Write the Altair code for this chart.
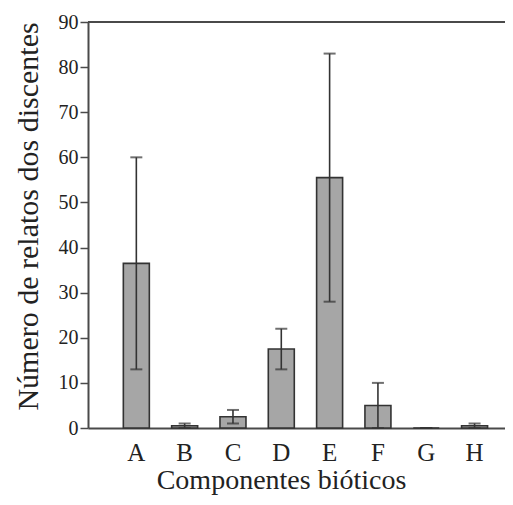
import altair as alt
import pandas as pd

categories = ["A", "B", "C", "D", "E", "F", "G", "H"]
means = [36.5, 0.5, 2.5, 17.5, 55.5, 5.0, 0.0, 0.5]
err_low = [13.0, 0.0, 1.0, 13.0, 28.0, 0.0, 0.0, 0.0]
err_high = [60.0, 1.0, 4.0, 22.0, 83.0, 10.0, 0.0, 1.0]
y_ticks = [0, 10, 20, 30, 40, 50, 60, 70, 80, 90]

df = pd.DataFrame({"cat": categories, "mean": means, "lo": err_low, "hi": err_high})

W = 417
H = 406
AX = "#4a4a4a"
FONT = "Times New Roman, Liberation Serif, serif"

xs = alt.Scale(domain=categories, paddingInner=0.46, paddingOuter=0.545, align=0.67)
ys = alt.Scale(domain=[0, 90], nice=False)

x_enc = alt.X("cat:N", scale=xs, sort=categories,
              axis=alt.Axis(title="Componentes bióticos", labelAngle=0, ticks=False,
                            labelPadding=12, labelFontSize=25, titleFontSize=28,
                            labelFont=FONT, titleFont=FONT, titleX=193,
                            titlePadding=1, titleFontWeight="normal"))
y_enc = alt.Y("mean:Q", scale=ys,
              axis=alt.Axis(title="Número de relatos dos discentes", values=y_ticks,
                            grid=False, tickSize=8, labelFontSize=20, labelPadding=2,
                            labelFont=FONT, titleFont=FONT, titleY=194,
                            titleFontSize=30, titlePadding=15, titleFontWeight="normal"))

bars = alt.Chart(df).mark_bar(fill="#a6a6a6", stroke="#333333", strokeWidth=1.6, size=26).encode(
    x=x_enc, y=y_enc)

err = alt.Chart(df).mark_rule(color="#333333", strokeWidth=1.6).encode(
    x=alt.X("cat:N", scale=xs, sort=categories), y=alt.Y("lo:Q", scale=ys), y2="hi:Q")

cap_hi = alt.Chart(df).mark_tick(color="#333333", thickness=2, size=12).encode(
    x=alt.X("cat:N", scale=xs, sort=categories), y=alt.Y("hi:Q", scale=ys))
cap_lo = alt.Chart(df).mark_tick(color="#333333", thickness=2, size=12).encode(
    x=alt.X("cat:N", scale=xs, sort=categories), y=alt.Y("lo:Q", scale=ys))

top = alt.Chart(df).mark_rule(color=AX, strokeWidth=2).encode(
    y=alt.datum(90, scale=ys), x=alt.value(0), x2=alt.value(W))

chart = alt.layer(bars, err, cap_hi, cap_lo, top).properties(
    width=W, height=H,
    autosize=alt.AutoSizeParams(type="none"),
    padding={"left": 80, "top": 14, "right": 0, "bottom": 69},
).configure_axis(
    domainColor=AX, domainWidth=2, tickColor=AX, tickWidth=1.5,
    labelFont=FONT, titleFont=FONT, labelColor="#222222", titleColor="#222222",
).configure_view(stroke=None)

chart.save("out.html", embed_options={"renderer": "svg", "actions": False})
